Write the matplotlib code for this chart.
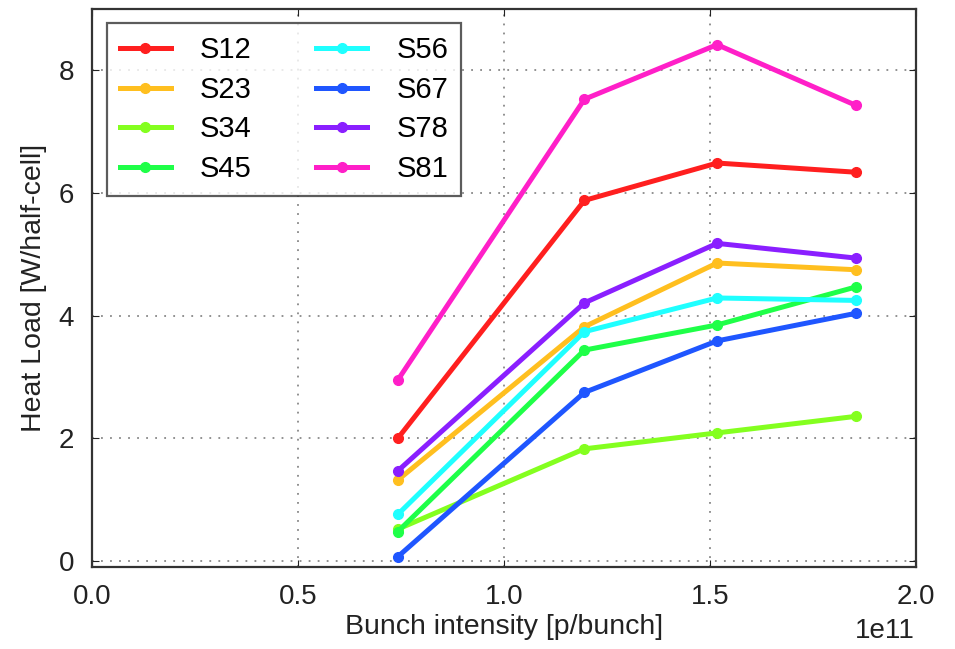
import numpy as np
import matplotlib.pyplot as plt

plt.rcParams['font.family'] = ['Liberation Sans', 'DejaVu Sans']

# Bunch intensities [p/bunch]
intensity = np.array([0.742, 1.195, 1.517, 1.854]) * 1e11

sectors = ["S12", "S23", "S34", "S45", "S56", "S67", "S78", "S81"]

s12 = [2.00, 5.88, 6.49, 6.34]
s23 = [1.32, 3.82, 4.86, 4.75]
s34 = [0.52, 1.83, 2.09, 2.36]
s45 = [0.48, 3.44, 3.85, 4.47]
s56 = [0.76, 3.74, 4.29, 4.25]
s67 = [0.07, 2.75, 3.59, 4.04]
s78 = [1.47, 4.21, 5.18, 4.94]
s81 = [2.95, 7.53, 8.42, 7.43]

heat_load = [s12, s23, s34, s45, s56, s67, s78, s81]
colors = ["#ff1f1f", "#ffbf1f", "#84ff1f", "#1fff48", "#1fffff",
          "#1f56ff", "#8a1fff", "#ff1fc8"]

fig = plt.figure(figsize=(9.55, 6.49), dpi=100)
ax = fig.add_axes([0.0963, 0.126, 0.863, 0.860])

for name, vals, c in zip(sectors, heat_load, colors):
    ax.plot(intensity, vals, "-o", color=c, lw=3.6, ms=7, label=name)

ax.set_xlim(0, 2.0e11)
ax.set_ylim(-0.1, 9.0)
ax.set_xticks(np.arange(0, 2.01e11, 0.5e11))
ax.set_yticks([0, 2, 4, 6, 8])
ax.xaxis.set_major_formatter(plt.FuncFormatter(lambda v, p: f"{v / 1e11:.1f}"))

ax.grid(True, linestyle=(0, (1, 4)), color="#888888", lw=1.3)
ax.tick_params(direction="in", top=True, right=True, length=5,
               labelsize=20, colors="#222222")
ax.tick_params(axis="x", pad=12)
ax.tick_params(axis="y", pad=13)
for sp in ax.spines.values():
    sp.set_linewidth(1.6)
    sp.set_color("#333333")

ax.set_xlabel("Bunch intensity [p/bunch]", fontsize=20.5, color="#222222", labelpad=3)
ax.set_ylabel("Heat Load [W/half-cell]", fontsize=20.5, color="#222222", labelpad=8)
fig.text(0.895, 0.017, "1e11", fontsize=20, color="#222222", va="baseline")

leg = ax.legend(loc="upper left", ncol=2, fontsize=21, frameon=True,
                fancybox=False, edgecolor="#333333", handlelength=1.75,
                columnspacing=2.2, handletextpad=1.0, labelspacing=0.4,
                borderpad=0.45, borderaxespad=0,
                bbox_to_anchor=(0.018, 0.975))
leg.get_frame().set_linewidth(1.6)

fig.savefig("out.png", dpi=100)
